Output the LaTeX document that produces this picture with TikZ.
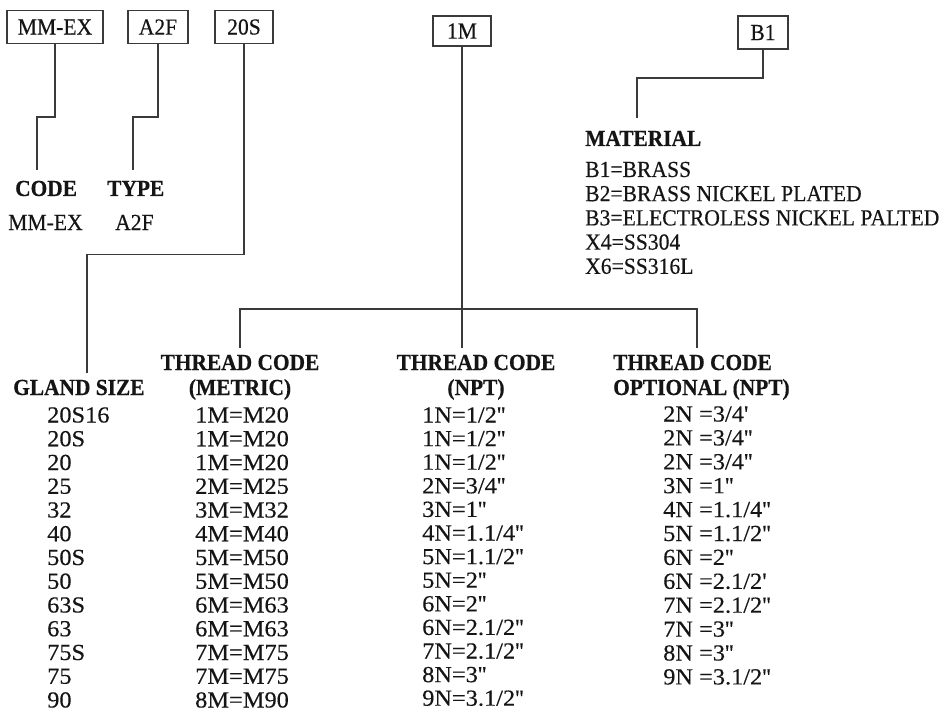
\documentclass[tikz,border=0pt]{standalone}
\usepackage{fontspec}
\setmainfont{Liberation Serif}[FakeStretch=1.06, FakeBold=0.35, BoldFeatures={FakeStretch=0.93, FakeBold=0.5}]
\newfontfamily\capsf{Liberation Serif}[FakeStretch=0.94, FakeBold=0.35]
\newcommand\myq{\textquotesingle}
\newcommand\myqq{\textquotesingle\textquotesingle}
\definecolor{ink}{HTML}{151515}
\definecolor{wire}{HTML}{3A3A3A}
\begin{document}
\begin{tikzpicture}[x=1pt,y=-1pt,
  txt/.style={inner sep=0pt, anchor=base west, text=ink, font=\fontsize{23}{25}\selectfont},
  ctxt/.style={txt, font=\fontsize{23}{25}\selectfont\capsf},
  head/.style={txt, font=\fontsize{23}{25}\selectfont\bfseries},
  headc/.style={head, anchor=base, align=center},
  codebox/.style={draw=wire, line width=1.8pt, fill=white, inner sep=0pt, text=ink,
    font=\fontsize{23}{25}\selectfont\capsf, minimum height=33pt},
  link/.style={draw=wire, line width=1.8pt}]
\path[use as bounding box] (0,0) rectangle (949,711);

% top code boxes
\node[codebox, minimum width=96pt] (bmm) at (55,27) {MM-EX};
\node[codebox, minimum width=60pt] (ba2f) at (158,27) {A2F};
\node[codebox, minimum width=58pt] (b20s) at (244,27) {20S};
\node[codebox, minimum width=58pt, minimum height=30pt] (b1m) at (462,31) {1M};
\node[codebox, minimum width=50pt] (bb1) at (763,32.5) {B1};

% CODE / TYPE
\node[head] (code) at (15,196) {CODE};
\node[ctxt] (codev) at (8,230) {MM-EX};
\node[head] (type) at (107,196) {TYPE};
\node[ctxt] (typev) at (115,230) {A2F};

% MATERIAL
\node[head] (mat) at (585,146) {MATERIAL};
\foreach \t [count=\i from 0] in {B1=BRASS, B2=BRASS NICKEL PLATED, B3=ELECTROLESS NICKEL PALTED, X4=SS304, X6=SS316L}
  \node[ctxt] (mat\i) at (585,177+24.2*\i) {\t};

% column headings (base = last line)
\node[head] (gland) at (13,395) {GLAND SIZE};
\node[headc] (hmet) at (240,395) {THREAD CODE\\(METRIC)};
\node[headc] (hnpt) at (476,395) {THREAD CODE\\(NPT)};
\node[head, align=left] (hopt) at (613,395) {THREAD CODE\\OPTIONAL (NPT)};

% connector end points
\coordinate (codeTop) at (37,170);
\coordinate (typeTop) at (133,170);
\coordinate (glandTop) at (87,373);
\coordinate (metTop) at (240,348);
\coordinate (nptTop) at (462,348);
\coordinate (optTop) at (697,348);
\coordinate (matTop) at (637,118);
\coordinate (split) at (462,309);

% connectors
\draw[link] (bmm.south) -- ++(0,73) -| (codeTop);
\draw[link] (ba2f.south) -- ++(0,73) -| (typeTop);
\draw[link] (b20s.south) -- ++(0,210) -| (glandTop);
\draw[link] (b1m.south) -- (nptTop);
\draw[link] (metTop) |- (split) -| (optTop);
\draw[link] (bb1.south) -- ++(0,28) -| (matTop);

% gland sizes
\foreach \t [count=\i from 0] in {20S16,20S,20,25,32,40,50S,50,63S,63,75S,75,90}
  \node[txt] (g\i) at (47,422.5+23.75*\i) {\t};
% metric
\foreach \t [count=\i from 0] in {1M=M20,1M=M20,1M=M20,2M=M25,3M=M32,4M=M40,5M=M50,5M=M50,6M=M63,6M=M63,7M=M75,7M=M75,8M=M90}
  \node[txt] (m\i) at (195,422.5+23.75*\i) {\t};
% npt
\foreach \t [count=\i from 0] in {1N=1/2\myqq,1N=1/2\myqq,1N=1/2\myqq,2N=3/4\myqq,3N=1\myqq,4N=1.1/4\myqq,5N=1.1/2\myqq,5N=2\myqq,6N=2\myqq,6N=2.1/2\myqq,7N=2.1/2\myqq,8N=3\myqq,9N=3.1/2\myqq}
  \node[txt] (n\i) at (422,422.5+23.6*\i) {\t};
% optional npt
\foreach \t [count=\i from 0] in {2N =3/4\myq,2N =3/4\myqq,2N =3/4\myqq,3N =1\myqq,4N =1.1/4\myqq,5N =1.1/2\myqq,6N =2\myqq,6N =2.1/2\myq,7N =2.1/2\myqq,7N =3\myqq,8N =3\myqq,9N =3.1/2\myqq}
  \node[txt] (o\i) at (663,421.5+23.9*\i) {\t};
\end{tikzpicture}
\end{document}
